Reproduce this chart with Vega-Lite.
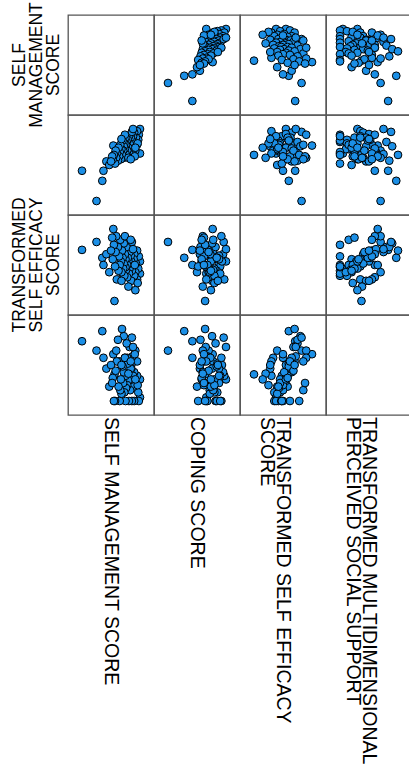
{
  "$schema": "https://vega.github.io/schema/vega-lite/v6.json",
  "padding": {"left": 10, "top": 2, "right": 0, "bottom": 0},
  "bounds": "flush",
  "data": {"values": [
    {"sm": 0, "cop": 42, "se": 71, "ms": 83},
    {"sm": 25, "cop": 0, "se": 82, "ms": 70},
    {"sm": 35, "cop": 28, "se": 60, "ms": 97},
    {"sm": 37, "cop": 42, "se": 50, "ms": 60},
    {"sm": 42, "cop": 55, "se": 65, "ms": 45},
    {"sm": 47, "cop": 50, "se": 40, "ms": 20},
    {"sm": 56, "cop": 64, "se": 0, "ms": 37},
    {"sm": 54, "cop": 77, "se": 100, "ms": 65},
    {"sm": 100, "cop": 66, "se": 38, "ms": 5},
    {"sm": 100, "cop": 100, "se": 55, "ms": 30},
    {"sm": 98, "cop": 92, "se": 62, "ms": 0},
    {"sm": 97, "cop": 85, "se": 45, "ms": 12},
    {"sm": 95, "cop": 97, "se": 30, "ms": 35},
    {"sm": 95, "cop": 78, "se": 70, "ms": 55},
    {"sm": 93, "cop": 88, "se": 52, "ms": 25},
    {"sm": 92, "cop": 70, "se": 40, "ms": 70},
    {"sm": 90, "cop": 95, "se": 65, "ms": 40},
    {"sm": 90, "cop": 82, "se": 35, "ms": 0},
    {"sm": 89, "cop": 75, "se": 58, "ms": 20},
    {"sm": 88, "cop": 90, "se": 48, "ms": 35},
    {"sm": 87, "cop": 68, "se": 72, "ms": 62},
    {"sm": 86, "cop": 84, "se": 42, "ms": 0},
    {"sm": 85, "cop": 93, "se": 55, "ms": 50},
    {"sm": 85, "cop": 76, "se": 28, "ms": 45},
    {"sm": 84, "cop": 88, "se": 63, "ms": 45},
    {"sm": 83, "cop": 72, "se": 50, "ms": 15},
    {"sm": 82, "cop": 80, "se": 45, "ms": 30},
    {"sm": 82, "cop": 65, "se": 68, "ms": 75},
    {"sm": 81, "cop": 90, "se": 38, "ms": 0},
    {"sm": 80, "cop": 74, "se": 55, "ms": 28},
    {"sm": 79, "cop": 85, "se": 60, "ms": 52},
    {"sm": 78, "cop": 70, "se": 33, "ms": 60},
    {"sm": 78, "cop": 62, "se": 50, "ms": 22},
    {"sm": 77, "cop": 82, "se": 75, "ms": 80},
    {"sm": 76, "cop": 78, "se": 43, "ms": 18},
    {"sm": 75, "cop": 88, "se": 58, "ms": 35},
    {"sm": 75, "cop": 66, "se": 47, "ms": 0},
    {"sm": 74, "cop": 73, "se": 65, "ms": 60},
    {"sm": 73, "cop": 80, "se": 35, "ms": 12},
    {"sm": 72, "cop": 60, "se": 52, "ms": 40},
    {"sm": 72, "cop": 76, "se": 80, "ms": 90},
    {"sm": 71, "cop": 70, "se": 45, "ms": 25},
    {"sm": 70, "cop": 84, "se": 60, "ms": 48},
    {"sm": 69, "cop": 64, "se": 70, "ms": 100},
    {"sm": 68, "cop": 72, "se": 40, "ms": 10},
    {"sm": 67, "cop": 58, "se": 55, "ms": 30},
    {"sm": 66, "cop": 78, "se": 85, "ms": 15},
    {"sm": 65, "cop": 68, "se": 50, "ms": 0},
    {"sm": 64, "cop": 62, "se": 62, "ms": 55},
    {"sm": 63, "cop": 74, "se": 42, "ms": 20},
    {"sm": 62, "cop": 56, "se": 75, "ms": 85},
    {"sm": 60, "cop": 66, "se": 30, "ms": 55},
    {"sm": 59, "cop": 60, "se": 90, "ms": 70},
    {"sm": 58, "cop": 70, "se": 68, "ms": 42},
    {"sm": 57, "cop": 52, "se": 48, "ms": 0},
    {"sm": 55, "cop": 64, "se": 78, "ms": 0},
    {"sm": 53, "cop": 58, "se": 58, "ms": 32},
    {"sm": 52, "cop": 62, "se": 88, "ms": 25},
    {"sm": 50, "cop": 55, "se": 70, "ms": 50},
    {"sm": 96, "cop": 80, "se": 25, "ms": 22},
    {"sm": 91, "cop": 62, "se": 50, "ms": 65},
    {"sm": 86, "cop": 96, "se": 82, "ms": 88},
    {"sm": 80, "cop": 60, "se": 20, "ms": 38},
    {"sm": 74, "cop": 92, "se": 90, "ms": 60},
    {"sm": 68, "cop": 86, "se": 28, "ms": 50},
    {"sm": 92, "cop": 74, "se": 15, "ms": 30},
    {"sm": 84, "cop": 58, "se": 85, "ms": 55},
    {"sm": 88, "cop": 100, "se": 72, "ms": 75}
  ]},
  "transform": [
    {"fold": ["sm", "cop", "se", "ms"], "as": ["xvar", "xval"]},
    {"fold": ["sm", "cop", "se", "ms"], "as": ["yvar", "yval"]}
  ],
  "facet": {
    "row": {
      "field": "yvar", "type": "nominal", "sort": ["sm", "cop", "se", "ms"], "title": null,
      "header": {
        "labelExpr": "datum.value === 'sm' ? ['SELF', 'MANAGEMENT', 'SCORE'] : datum.value === 'se' ? ['TRANSFORMED', 'SELF EFFICACY', 'SCORE'] : ''",
        "labelAngle": -90, "labelAlign": "center", "labelBaseline": "bottom",
        "labelFont": "Liberation Sans", "labelFontSize": 17.5, "labelLineHeight": 17,
        "labelColor": "#000", "labelPadding": -12
      }
    },
    "column": {
      "field": "xvar", "type": "nominal", "sort": ["sm", "cop", "se", "ms"], "title": null,
      "header": {
        "orient": "bottom",
        "labelExpr": "datum.value === 'sm' ? 'SELF MANAGEMENT SCORE' : datum.value === 'cop' ? 'COPING SCORE' : datum.value === 'se' ? ['TRANSFORMED SELF EFFICACY', 'SCORE'] : ['TRANSFORMED MULTIDIMENSIONAL', 'PERCEIVED SOCIAL SUPPORT']",
        "labelAngle": 90, "labelAlign": "left", "labelBaseline": "middle",
        "labelFont": "Liberation Sans", "labelFontSize": 19.5, "labelLineHeight": 16,
        "labelColor": "#000", "labelPadding": 2
      }
    }
  },
  "spacing": {"row": 0, "column": 0},
  "spec": {
    "width": 86,
    "height": 100,
    "mark": {"type": "point", "shape": "circle", "filled": true, "fill": "#1b8fe6", "stroke": "#000", "strokeWidth": 1, "size": 60},
    "encoding": {
      "x": {"field": "xval", "type": "quantitative", "scale": {"domain": [0, 100], "padding": 14, "nice": false, "zero": false}, "axis": null},
      "y": {"field": "yval", "type": "quantitative", "scale": {"domain": [0, 100], "padding": 14, "nice": false, "zero": false}, "axis": null},
      "opacity": {"condition": {"test": "datum.xvar === datum.yvar", "value": 0}, "value": 1}
    }
  },
  "config": {"view": {"stroke": "#555", "strokeWidth": 1.3}}
}
